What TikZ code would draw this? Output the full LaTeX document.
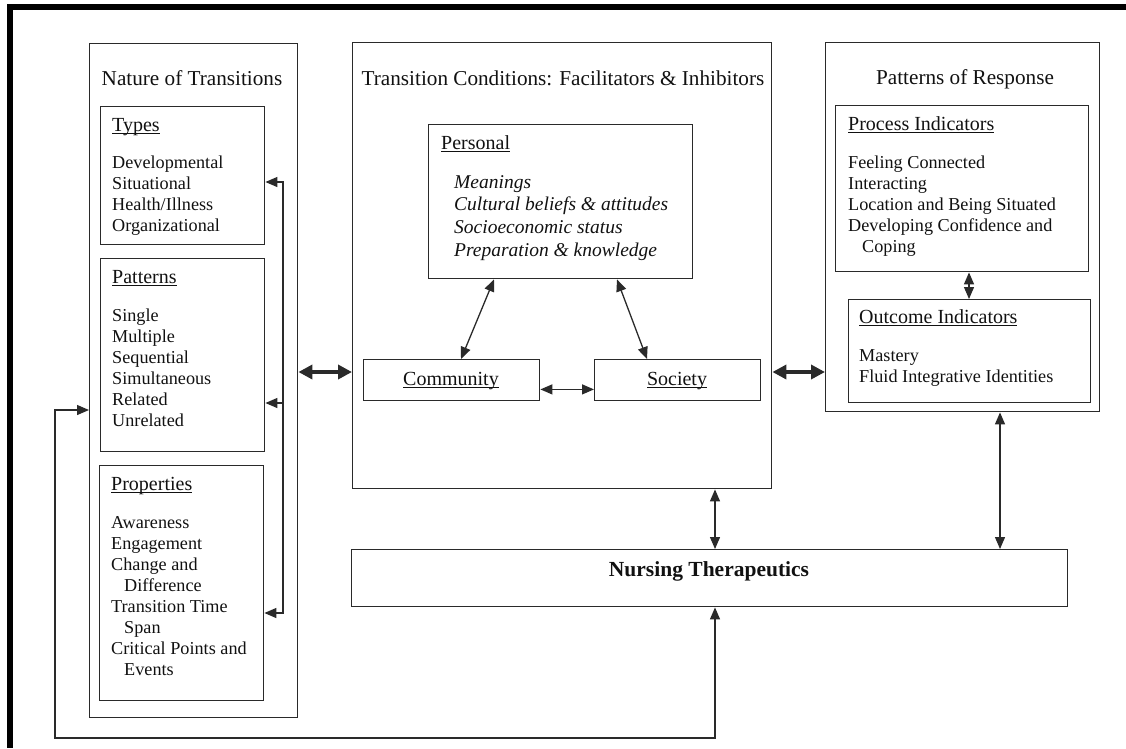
\documentclass[tikz,border=0pt]{standalone}
\usepackage{fontspec}
\setmainfont{Liberation Serif}
\usetikzlibrary{arrows.meta,calc}
\definecolor{ink}{HTML}{2A2A2A}
\definecolor{txt}{HTML}{111111}
\newcommand{\myul}[1]{\setbox0\hbox{#1}\rlap{\rule[-2.3pt]{\wd0}{0.9pt}}\box0}
\begin{document}
\begin{tikzpicture}[x=1pt,y=-1pt,
  box/.style={draw=ink, line width=1.4pt, inner sep=0pt, anchor=north west},
  body/.style={anchor=base west, inner sep=0pt, text=txt, font=\fontsize{18.2}{21}\selectfont},
  head/.style={anchor=base west, inner sep=0pt, text=txt, font=\fontsize{20}{24}\selectfont},
  ital/.style={anchor=base west, inner sep=0pt, text=txt, font=\fontsize{19.5}{23}\selectfont\itshape},
  ttl/.style={anchor=base, inner sep=0pt, text=txt, font=\fontsize{21.2}{25}\selectfont},
  link/.style={draw=ink, line width=1.3pt},
  tip/.style={-{Triangle[length=12pt,width=10pt]}},
  dtip/.style={{Triangle[length=12pt,width=10pt]}-{Triangle[length=12pt,width=10pt]}},
  big/.style={draw=ink, line width=3.6pt, {Triangle[length=14pt,width=14pt]}-{Triangle[length=14pt,width=14pt]}}
]
\useasboundingbox (0,0) rectangle (1126,748);
% frame (cropped border)
\fill[black] (7,4) rectangle (1126,10);
\fill[black] (7,4) rectangle (13,748);

% ---------- Nature of Transitions ----------
\node[box, minimum width=208pt, minimum height=674pt] (nat) at (89,43) {};
\node[ttl] (natT) at (192,85) {Nature of Transitions};
\node[box, minimum width=164pt, minimum height=138pt] (types) at (100,106) {};
\node[head] (typesH) at (112,131.5) {\myul{Types}};
\foreach \t [count=\i] in {Developmental,Situational,Health/Illness,Organizational}
  \node[body, name=types\i] at (112,{168+21*(\i-1)}) {\t};
\node[box, minimum width=164pt, minimum height=193pt] (patt) at (100,258) {};
\node[head] (pattH) at (112,283.5) {\myul{Patterns}};
\foreach \t [count=\i] in {Single,Multiple,Sequential,Simultaneous,Related,Unrelated}
  \node[body, name=patt\i] at (112,{321+21*(\i-1)}) {\t};
\node[box, minimum width=164pt, minimum height=235pt] (prop) at (99,465) {};
\node[head] (propH) at (111,490.5) {\myul{Properties}};
\foreach \t/\dx [count=\i] in {Awareness/0,Engagement/0,Change and/0,Difference/13,Transition Time/0,Span/13,Critical Points and/0,Events/13}
  \node[body, name=prop\i] at ({111+\dx},{528+21.1*(\i-1)}) {\t};

% ---------- Transition Conditions ----------
\node[box, minimum width=419pt, minimum height=446pt] (mid) at (352,42) {};
\node[ttl] (midT) at (563,85) {Transition Conditions: Facilitators \& Inhibitors};
\node[box, minimum width=264pt, minimum height=154pt] (pers) at (428,124) {};
\node[head] (persH) at (441,149.5) {\myul{Personal}};
\foreach \t [count=\i] in {Meanings,Cultural beliefs \& attitudes,Socioeconomic status,Preparation \& knowledge}
  \node[ital, name=pers\i] at (454,{188+22.7*(\i-1)}) {\t};
\node[box, minimum width=176pt, minimum height=41pt] (comm) at (363,359) {};
\node[head, anchor=base] (commT) at (451,385.5) {\myul{Community}};
\node[box, minimum width=166pt, minimum height=41pt] (soc) at (594,359) {};
\node[head, anchor=base] (socT) at (677,385.5) {\myul{Society}};

% ---------- Patterns of Response ----------
\node[box, minimum width=274pt, minimum height=369pt] (resp) at (825,42) {};
\node[ttl] (respT) at (965,84) {Patterns of Response};
\node[box, minimum width=253pt, minimum height=166pt] (proc) at (835,105) {};
\node[head] (procH) at (848,130.5) {\myul{Process Indicators}};
\foreach \t/\dx [count=\i] in {Feeling Connected/0,Interacting/0,Location and Being Situated/0,Developing Confidence and/0,Coping/14}
  \node[body, name=proc\i] at ({848+\dx},{168+21.2*(\i-1)}) {\t};
\node[box, minimum width=242pt, minimum height=103pt] (outc) at (848,299) {};
\node[head] (outcH) at (859,323.5) {\myul{Outcome Indicators}};
\node[body] (outc1) at (859,361) {Mastery};
\node[body] (outc2) at (859,382) {Fluid Integrative Identities};

% ---------- Nursing Therapeutics ----------
\node[box, minimum width=716pt, minimum height=57pt] (nurs) at (351,549) {};
\node[anchor=base, inner sep=0pt, text=txt, font=\fontsize{21.5}{25}\selectfont\bfseries] (nursT) at (709,576) {Nursing Therapeutics};

% ---------- connectors ----------
\draw[link, dtip] ($(comm.north west)+(98,0)$) -- ($(pers.south west)+(66,0)$);
\draw[link, dtip] ($(soc.north west)+(53,0)$) -- ($(pers.south west)+(189,0)$);
\draw[link, dtip] ($(comm.south east)+(0,-12)$) -- ($(soc.south west)+(0,-12)$);
\draw[big] ($(nat.north east)+(0,329)$) -- ($(mid.north west)+(0,330)$);
\draw[big] ($(mid.north east)+(0,330)$) -- ($(resp.north west)+(0,330)$);
\draw[link, dtip] ($(proc.south west)+(134,0)$) -- ($(outc.north west)+(121,0)$);
\draw[link, dtip] ($(resp.south west)+(175,0)$) -- ($(nurs.north west)+(649,0)$);
\draw[link, dtip] ($(mid.south west)+(363,0)$) -- ($(nurs.north west)+(364,0)$);

% outer feedback loop
\coordinate (fbA) at (55,410);
\coordinate (fbB) at (55,738);
\coordinate (fbC) at (715,738);
\draw[link, dtip] ($(nurs.south west)+(364,0)$) -- (fbC) -- (fbB) -- (fbA) -- ($(nat.north west)+(0,367)$);

% inner feedback line
\coordinate (fbTop) at (283,182);
\coordinate (fbMid) at (283,403);
\coordinate (fbBot) at (283,613);
\draw[link, dtip] ($(types.north east)+(0,76)$) -- (fbTop) -- (fbBot) -- ($(prop.north east)+(0,148)$);
\draw[link, tip] (fbMid) -- ($(patt.north east)+(0,145)$);
\end{tikzpicture}
\end{document}
